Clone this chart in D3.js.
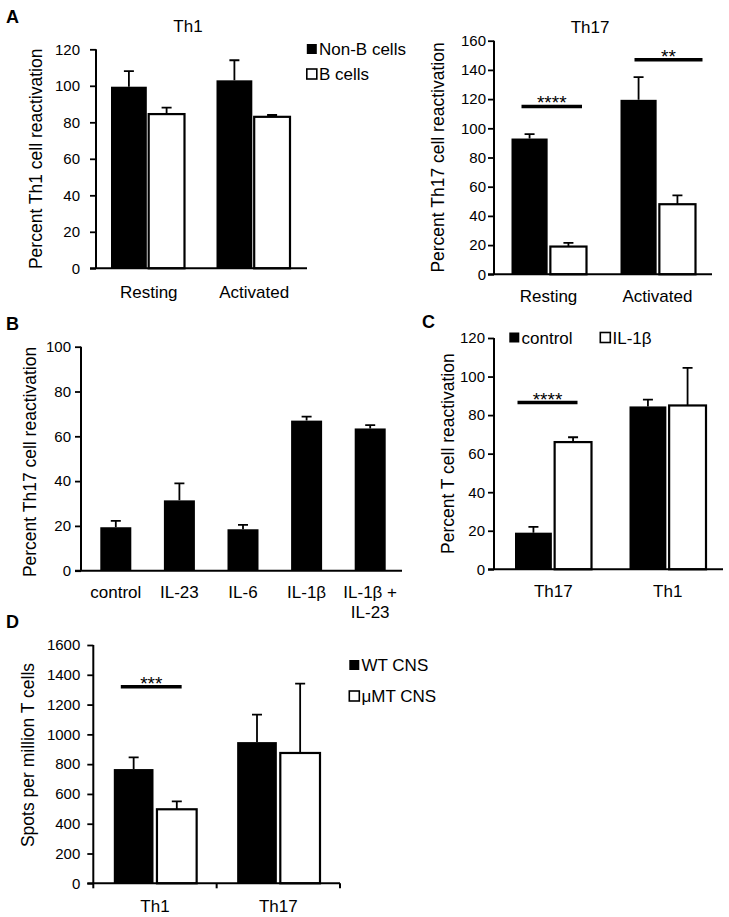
<!DOCTYPE html>
<html>
<head>
    <meta charset="utf-8">
    <style>
        body {
            margin: 0;
            background: white;
        }

        svg {
            display: block;
            font-family: "Liberation Sans", Arial, sans-serif;
        }
    </style>
</head>
<body>
    <svg width="729" height="917"></svg>

<script src="https://d3js.org/d3.v7.min.js"></script>
<script>
    // ---- data ----
    // panel A
    let activationStates = ["Resting", "Activated"]
    let th1NonB = [99.5, 103]
    let th1NonBSem = [8.5, 11]
    let th1B = [84.5, 83]
    let th1BSem = [3.5, 1]
    let th1Ticks = [0, 20, 40, 60, 80, 100, 120]

    let th17NonB = [93, 119.5]
    let th17NonBSem = [3, 15.5]
    let th17B = [19, 48]
    let th17BSem = [2.5, 6]
    let th17Ticks = [0, 20, 40, 60, 80, 100, 120, 140, 160]
    let th17Sig = [
        { cat: "Resting", value: 115, label: "****" },
        { cat: "Activated", value: 147, label: "**" }
    ]

    // panel B
    let cytokines = ["control", "IL-23", "IL-6", "IL-1β", "IL-1β +\nIL-23"]
    let cytokineMean = [19.4, 31.4, 18.5, 67, 63.5]
    let cytokineSem = [2.8, 7.6, 2, 1.8, 1.5]
    let cytokineTicks = [0, 20, 40, 60, 80, 100]

    // panel C
    let subsets = ["Th17", "Th1"]
    let controlMean = [19, 84.5]
    let controlSem = [3, 3.5]
    let il1bMean = [66, 85]
    let il1bSem = [2.5, 19.5]
    let subsetTicks = [0, 20, 40, 60, 80, 100, 120]
    let subsetSig = [{ cat: "Th17", value: 86.5, label: "****" }]

    // panel D
    let spotSubsets = ["Th1", "Th17"]
    let wtMean = [767, 948]
    let wtSem = [79, 184]
    let muMtMean = [497, 875]
    let muMtSem = [53, 465]
    let spotTicks = [0, 200, 400, 600, 800, 1000, 1200, 1400, 1600]
    let spotSig = [{ cat: "Th1", value: 1320, label: "***" }]

    let svg = d3.select("svg")

    svg.append("rect")
        .attr("width", 729)
        .attr("height", 917)
        .attr("fill", "white")

    function drawPanel(cfg) {
        let g = svg.append("g")

        let x = d3.scaleBand()
            .domain(cfg.cats)
            .range(cfg.band)
            .padding(0)

        let sub = d3.scaleBand()
            .domain(cfg.series.map(s => s.name))
            .range([cfg.inset[0], x.bandwidth() - cfg.inset[1]])
            .paddingInner(cfg.subPad || 0)

        let y = d3.scaleLinear()
            .domain([0, cfg.max])
            .range([cfg.y0, cfg.yTop])

        // bars + error bars
        cfg.series.forEach(s => {
            let rows = cfg.cats.map((c, i) => ({ cat: c, v: s.values[i], e: s.sems[i] }))

            g.selectAll(null)
                .data(rows)
                .join("rect")
                .attr("x", d => x(d.cat) + sub(s.name))
                .attr("y", d => y(d.v))
                .attr("width", sub.bandwidth())
                .attr("height", d => y(0) - y(d.v))
                .attr("fill", s.fill)
                .attr("stroke", "black")
                .attr("stroke-width", s.fill == "white" ? 2.2 : 0)

            g.selectAll(null)
                .data(rows)
                .join("path")
                .attr("d", d => {
                    let cx = x(d.cat) + sub(s.name) + sub.bandwidth() / 2
                    let top = y(d.v + d.e)
                    return "M" + cx + "," + y(d.v) + "V" + top + "M" + (cx - 5) + "," + top + "H" + (cx + 5)
                })
                .attr("fill", "none")
                .attr("stroke", "black")
                .attr("stroke-width", 1.8)
        })

        // y axis
        let yAxis = g.append("g")
            .attr("transform", "translate(" + cfg.axisX + ",0)")
            .call(d3.axisLeft(y)
                .tickValues(cfg.ticks)
                .tickFormat(d3.format("d"))
                .tickSize(6)
                .tickPadding(cfg.labelGap - 6))

        yAxis.select(".domain").remove()
        yAxis.selectAll(".tick line").attr("stroke-width", 1.8)
        yAxis.selectAll(".tick text")
            .attr("font-size", 15)
            .attr("font-family", "Liberation Sans, Arial, sans-serif")
            .attr("fill", "black")

        g.append("line")
            .attr("x1", cfg.axisX).attr("x2", cfg.axisX)
            .attr("y1", y(0)).attr("y2", y(cfg.max))
            .attr("stroke", "black").attr("stroke-width", 2)

        // x axis line
        g.append("line")
            .attr("x1", cfg.axisX - 6).attr("x2", cfg.xEnd)
            .attr("y1", y(0)).attr("y2", y(0))
            .attr("stroke", "black").attr("stroke-width", 2)

        if (cfg.xTicks) {
            let edges = cfg.cats.map(c => x(c)).concat([x.range()[1]])
            g.selectAll(null)
                .data(edges)
                .join("line")
                .attr("x1", d => d).attr("x2", d => d)
                .attr("y1", y(0)).attr("y2", y(0) + 5)
                .attr("stroke", "black").attr("stroke-width", 2)
        }

        // category labels
        let cat = g.selectAll(null)
            .data(cfg.cats)
            .join("text")
            .attr("x", d => x(d) + x.bandwidth() / 2)
            .attr("y", cfg.catBaseline)
            .attr("text-anchor", "middle")
            .attr("font-size", 17)

        cat.selectAll("tspan")
            .data(d => d.split("\n").map((t, i) => ({ t: t, i: i, x: x(d) + x.bandwidth() / 2 })))
            .join("tspan")
            .attr("x", d => d.x)
            .attr("dy", d => d.i == 0 ? 0 : 20)
            .text(d => d.t)

        // y title
        let titleY = cfg.titleY || (cfg.y0 + cfg.yTop) / 2
        g.append("text")
            .attr("transform", "translate(" + cfg.titleX + "," + titleY + ") rotate(-90)")
            .attr("text-anchor", "middle")
            .attr("dy", "0.35em")
            .attr("font-size", 17.5)
            .text(cfg.yTitle)

        // significance bars
        if (cfg.sig) {
            cfg.sig.forEach((s, i) => {
                let x0 = x(s.cat) + cfg.inset[0] + cfg.sigDx[i][0]
                let x1 = x(s.cat) + x.bandwidth() - cfg.inset[1] + cfg.sigDx[i][1]
                g.append("line")
                    .attr("x1", x0).attr("x2", x1)
                    .attr("y1", y(s.value)).attr("y2", y(s.value))
                    .attr("stroke", "black").attr("stroke-width", 3.5)
                g.append("text")
                    .attr("x", (x0 + x1) / 2)
                    .attr("y", y(s.value) + 3)
                    .attr("text-anchor", "middle")
                    .attr("font-size", 19)
                    .text(s.label)
            })
        }

        return g
    }

    function legend(items, x, baselines, dx) {
        items.forEach((it, i) => {
            let bx = x + (dx ? dx[i] : 0)
            let by = baselines[i]
            svg.append("rect")
                .attr("x", bx + 0.8).attr("y", by - 11)
                .attr("width", 10).attr("height", 10)
                .attr("fill", it.fill)
                .attr("stroke", "black")
                .attr("stroke-width", it.fill == "white" ? 1.6 : 0)
            svg.append("text")
                .attr("x", bx + 13)
                .attr("y", by)
                .attr("font-size", 17)
                .text(it.name)
        })
    }

    function panelLetter(t, x, y) {
        svg.append("text")
            .attr("x", x).attr("y", y)
            .attr("font-size", 18)
            .attr("font-weight", "bold")
            .text(t)
    }

    function title(t, x, y) {
        svg.append("text")
            .attr("x", x).attr("y", y)
            .attr("text-anchor", "middle")
            .attr("font-size", 17)
            .text(t)
    }

    // ---- A: Th1 ----
    drawPanel({
        cats: activationStates,
        series: [
            { name: "Non-B cells", values: th1NonB, sems: th1NonBSem, fill: "black" },
            { name: "B cells", values: th1B, sems: th1BSem, fill: "white" }
        ],
        ticks: th1Ticks, max: 120,
        axisX: 96, xEnd: 307, band: [96, 307], inset: [15, 17], subPad: 0.05,
        y0: 268.3, yTop: 49.3, labelGap: 16,
        titleX: 36, catBaseline: 297.7,
        yTitle: "Percent Th1 cell reactivation"
    })
    title("Th1", 188, 31.5)
    legend([{ name: "Non-B cells", fill: "black" }, { name: "B cells", fill: "white" }], 306, [55, 80])

    // ---- A: Th17 ----
    drawPanel({
        cats: activationStates,
        series: [
            { name: "Non-B cells", values: th17NonB, sems: th17NonBSem, fill: "black" },
            { name: "B cells", values: th17B, sems: th17BSem, fill: "white" }
        ],
        ticks: th17Ticks, max: 160,
        axisX: 494, xEnd: 712, band: [494, 712], inset: [17.5, 16.5], subPad: 0.07,
        y0: 274.3, yTop: 40.7, labelGap: 8,
        titleX: 438, catBaseline: 301.7,
        yTitle: "Percent Th17 cell reactivation",
        sig: th17Sig, sigDx: [[10, -4.5], [14, 7]]
    })
    title("Th17", 590, 33.3)

    // ---- B ----
    drawPanel({
        cats: cytokines,
        series: [{ name: "mean", values: cytokineMean, sems: cytokineSem, fill: "black" }],
        ticks: cytokineTicks, max: 100,
        axisX: 81, xEnd: 402, band: [84, 402], inset: [16.3, 16.3],
        y0: 570.7, yTop: 346.7, labelGap: 10,
        titleX: 30, titleY: 462, catBaseline: 598.3,
        yTitle: "Percent Th17 cell reactivation"
    })

    // ---- C ----
    drawPanel({
        cats: subsets,
        series: [
            { name: "control", values: controlMean, sems: controlSem, fill: "black" },
            { name: "IL-1β", values: il1bMean, sems: il1bSem, fill: "white" }
        ],
        ticks: subsetTicks, max: 120,
        axisX: 494, xEnd: 723, band: [496, 725], inset: [19, 19], subPad: 0.07,
        y0: 569.3, yTop: 338, labelGap: 9,
        titleX: 448, catBaseline: 596.7,
        yTitle: "Percent T cell reactivation",
        sig: subsetSig, sigDx: [[2.5, -14]]
    })
    legend([{ name: "control", fill: "black" }, { name: "IL-1β", fill: "white" }], 508.5, [343.5, 343.5], [0, 91])

    // ---- D ----
    drawPanel({
        cats: spotSubsets,
        series: [
            { name: "WT CNS", values: wtMean, sems: wtSem, fill: "black" },
            { name: "μMT CNS", values: muMtMean, sems: muMtSem, fill: "white" }
        ],
        ticks: spotTicks, max: 1600,
        axisX: 93.3, xEnd: 340, band: [93.3, 340], inset: [20.5, 20], subPad: 0.08,
        y0: 883.3, yTop: 645, labelGap: 13,
        titleX: 28, titleY: 755, catBaseline: 911.7, xTicks: true,
        yTitle: "Spots per million T cells",
        sig: spotSig, sigDx: [[7, -15]]
    })
    legend([{ name: "WT CNS", fill: "black" }, { name: "μMT CNS", fill: "white" }], 348.5, [671, 702])

    panelLetter("A", 6, 23)
    panelLetter("B", 6, 330)
    panelLetter("C", 422, 328)
    panelLetter("D", 6, 628)
</script>
</body>
</html>
